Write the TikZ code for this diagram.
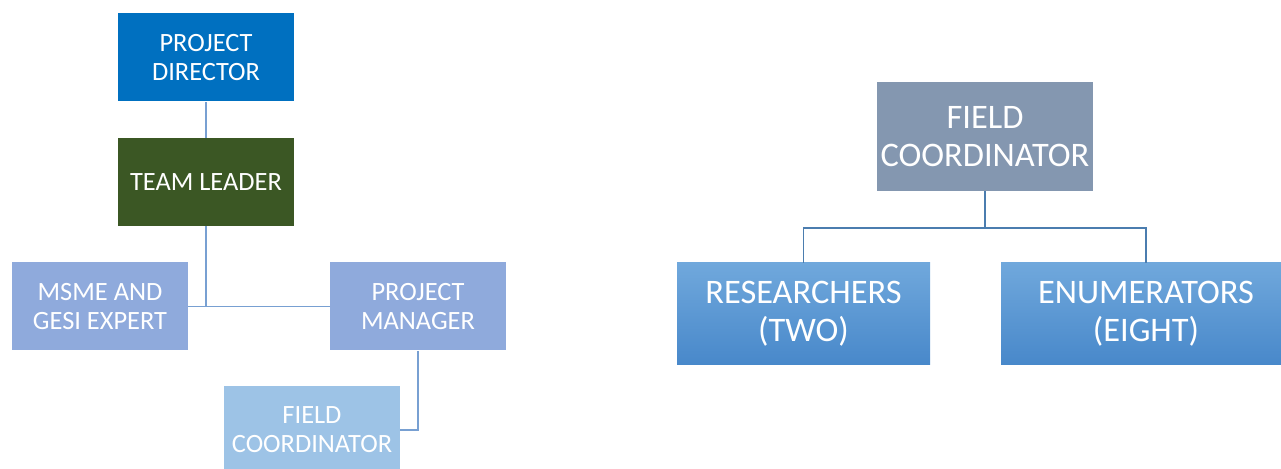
\documentclass[tikz,border=0pt]{standalone}
\usepackage{fontspec}
\setmainfont{Carlito}
\usepackage{tikz}
\usetikzlibrary{positioning,calc}
\definecolor{dirblue}{RGB}{0,112,192}
\definecolor{leadgreen}{RGB}{59,87,36}
\definecolor{staffblue}{RGB}{143,170,220}
\definecolor{fieldblue}{RGB}{157,195,230}
\definecolor{slate}{RGB}{132,151,176}
\definecolor{gradtop}{RGB}{112,168,220}
\definecolor{gradbot}{RGB}{72,136,202}
\definecolor{linklight}{RGB}{120,160,210}
\definecolor{linkdark}{RGB}{75,125,175}

\tikzset{
  role/.style={rectangle,text=white,align=center,inner sep=0pt,
    minimum width=88pt,minimum height=44pt,font=\fontsize{13.2}{14.4}\selectfont},
  bigrole/.style={rectangle,text=white,align=center,inner sep=0pt,
    minimum height=51pt,font=\fontsize{17.2}{19}\selectfont},
  link/.style={draw=linklight,line width=0.75pt},
  darklink/.style={draw=linkdark,line width=0.75pt}
}

\begin{document}
\begin{tikzpicture}[x=0.5pt,y=-0.5pt]
        \clip (0,0) rectangle (1281,469);
        % left chart
        \node[role,fill=dirblue] (director) at (206,57.5) {PROJECT\\DIRECTOR};
        \node[role,fill=leadgreen] (leader) at (206,182) {TEAM LEADER};
        \node[role,fill=staffblue] (expert) at (100,306.5) {MSME AND\\GESI EXPERT};
        \node[role,fill=staffblue] (manager) at (418,306.5) {PROJECT\\MANAGER};
        \node[role,fill=fieldblue] (fieldsm) at (312,430) {FIELD\\COORDINATOR};
        \draw[link] (director.south) -- (leader.north);
        \draw[link] (leader.south) -- (leader.south |- expert.east);
        \draw[link] (expert.east) -- (manager.west);
        \draw[link] (manager.south) |- (fieldsm.east);
        % right chart
        \node[bigrole,fill=slate,minimum width=108pt,minimum height=54.5pt] (fieldbig) at (985,136.5) {FIELD\\COORDINATOR};
        \node[bigrole,top color=gradtop,bottom color=gradbot,minimum width=126.5pt] (research) at (803.5,314) {RESEARCHERS\\(TWO)};
        \node[bigrole,top color=gradtop,bottom color=gradbot,minimum width=145pt] (enum) at (1146,314) {ENUMERATORS\\(EIGHT)};
        \coordinate (bus) at (985,228);
        \draw[darklink] (fieldbig.south) -- (bus);
        \draw[darklink] (research.north) |- (bus) -| (enum.north);
      \end{tikzpicture}
\end{document}
